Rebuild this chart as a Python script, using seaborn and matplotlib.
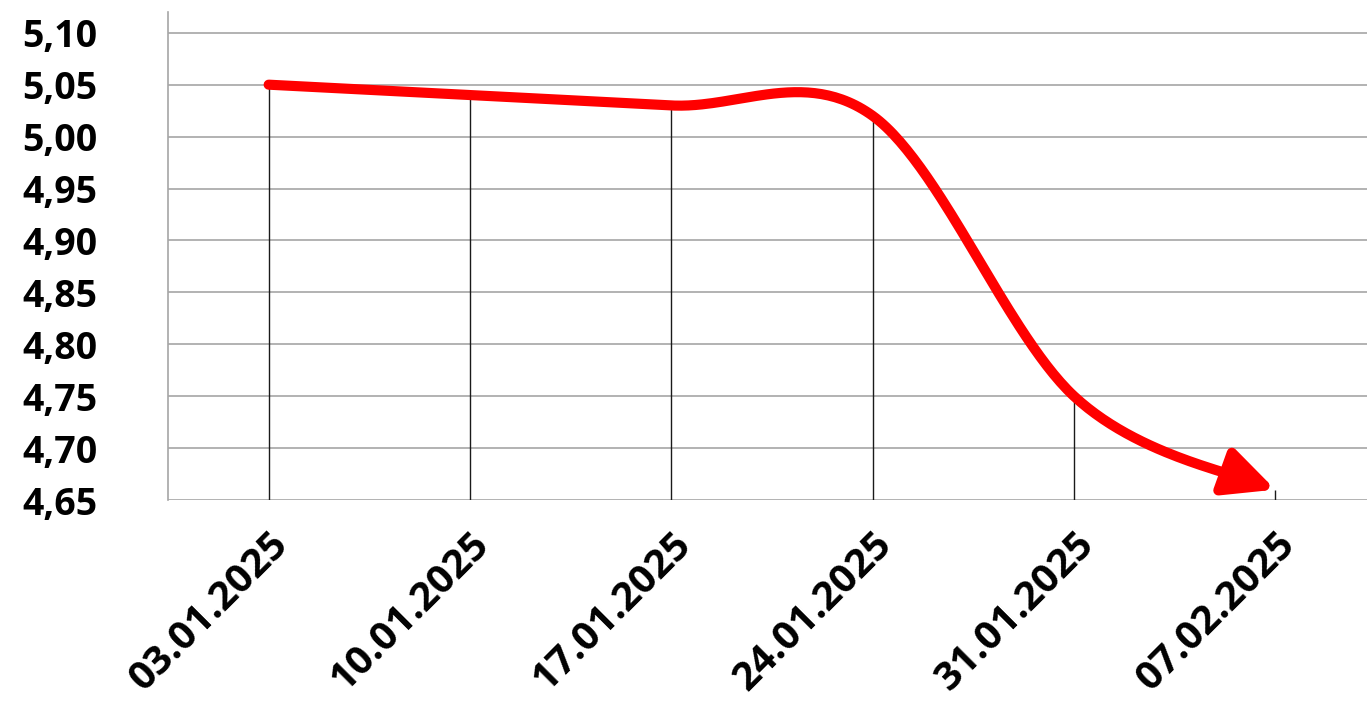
import numpy as np
import pandas as pd
import matplotlib
matplotlib.use("Agg")
import matplotlib.pyplot as plt
import seaborn as sns

dates = ["03.01.2025", "10.01.2025", "17.01.2025", "24.01.2025", "31.01.2025", "07.02.2025"]
values = [5.05, 5.04, 5.03, 5.02, 4.75, 4.66]
y_ticks = [4.65, 4.70, 4.75, 4.80, 4.85, 4.90, 4.95, 5.00, 5.05, 5.10]

sns.set_style("white")
plt.rcParams['font.family'] = ['Open Sans', 'DejaVu Sans']

# smoothed line like the spreadsheet one (Catmull-Rom through the points)
xs = np.arange(len(values), dtype=float)
ys = np.array(values)
px = np.concatenate([[xs[0]], xs, [xs[-1]]])
py = np.concatenate([[ys[0]], ys, [ys[-1]]])
cx, cy = [], []
t = np.linspace(0, 1, 60)
for i in range(len(xs) - 1):
    p0x, p1x, p2x, p3x = px[i], px[i+1], px[i+2], px[i+3]
    p0y, p1y, p2y, p3y = py[i], py[i+1], py[i+2], py[i+3]
    b1x, b1y = p1x + (p2x - p0x) / 6, p1y + (p2y - p0y) / 6
    b2x, b2y = p2x - (p3x - p1x) / 6, p2y - (p3y - p1y) / 6
    bx = (1-t)**3*p1x + 3*(1-t)**2*t*b1x + 3*(1-t)*t**2*b2x + t**3*p2x
    by = (1-t)**3*p1y + 3*(1-t)**2*t*b1y + 3*(1-t)*t**2*b2y + t**3*p2y
    cx.extend(bx[:-1] if i < len(xs) - 2 else bx)
    cy.extend(by[:-1] if i < len(xs) - 2 else by)
curve = pd.DataFrame({"x": cx, "y": cy})

fig = plt.figure(figsize=(13.67, 7.06), dpi=100)
ax = fig.add_axes([168/1367, 1-500/706, 1208/1367, 488/706])

# drop lines
ax.vlines(xs, 4.65, ys, color="#1a1a1a", lw=1.0, zorder=2)

cut = len(curve) - 12
sns.lineplot(data=curve.iloc[:cut+1], x="x", y="y", color="#ff0000", lw=7.3,
             solid_capstyle="round", sort=False, ax=ax, zorder=3)
ax.annotate("", xy=(xs[-1], ys[-1]), xytext=(curve.x.iloc[cut], curve.y.iloc[cut]),
            arrowprops=dict(arrowstyle="-|>,head_length=0.75,head_width=0.36",
                            mutation_scale=40, color="#ff0000", lw=7.3,
                            shrinkA=0, shrinkB=0), zorder=4)

ax.set_xlim(-0.5, 5.5)
ax.set_ylim(4.65, 5.12)
ax.set_yticks(y_ticks)
ax.set_yticklabels([f"{v:.2f}".replace(".", ",") for v in y_ticks],
                   fontsize=27, fontweight="bold", color="black")
ax.set_xticks(xs)
ax.set_xticklabels(dates, fontsize=29, fontweight="bold", rotation=45,
                   ha="right", rotation_mode="anchor", color="black")
ax.tick_params(axis="y", length=11, width=1.2, color="#a6a6a6", pad=40)
ax.tick_params(axis="x", length=0, pad=18)
ax.yaxis.grid(True, color="#a6a6a6", lw=1.2)
ax.set_axisbelow(True)
for s in ["top", "right", "bottom"]:
    ax.spines[s].set_visible(False)
ax.spines["left"].set_color("#a6a6a6")
ax.spines["left"].set_linewidth(1.2)
ax.set_xlabel("")
ax.set_ylabel("")

fig.savefig("out.png", dpi=100)
